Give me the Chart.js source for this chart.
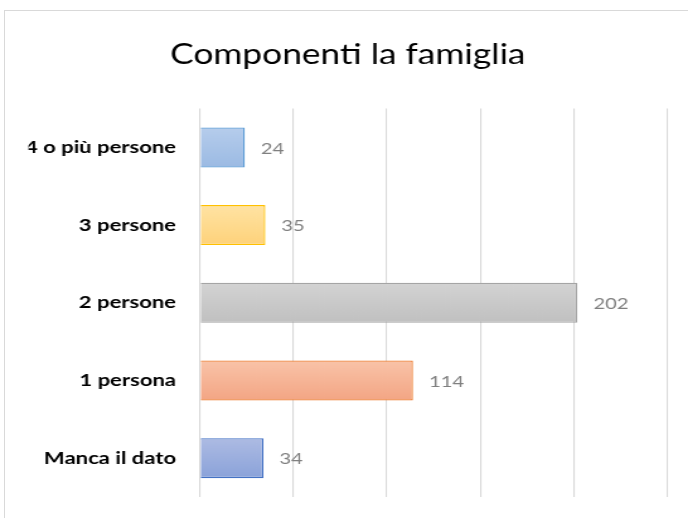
<!DOCTYPE html>
<html>
<head>
<meta charset="utf-8">
<script src="https://cdn.jsdelivr.net/npm/chart.js@4/dist/chart.umd.min.js"></script>
<style>
  html, body { margin: 0; padding: 0; background: #ffffff; }
  #wrap { position: relative; width: 688px; height: 518px; overflow: hidden; }
  #frame { position: absolute; left: 4px; top: 10px; width: 720px; height: 540px; border: 1px solid #d9d9d9; box-sizing: border-box; }
  #c { position: absolute; left: 0; top: 0; }
</style>
</head>
<body>
<div id="wrap">
  <div id="frame"></div>
  <!-- drawn at 546 px wide and stretched to 688 px, like the reference -->
  <canvas id="c" width="546" height="518" style="width:688px;height:518px;"></canvas>
</div>
<script>
const chartTitle = "Componenti la famiglia";
const categories = ["4 o più persone", "3 persone", "2 persone", "1 persona", "Manca il dato"];
const values = [24, 35, 202, 114, 34];
const xTicks = [0, 50, 100, 150, 200, 250];

const fillTop = ["#b6cdec", "#ffe3a3", "#d3d3d3", "#f9c3a8", "#adbbe3"];
const fillBottom = ["#9bbae3", "#fed27a", "#c0c0c0", "#f3a584", "#8aa2d9"];
const borderCols = ["#5b9bd5", "#ffc000", "#a5a5a5", "#ed7d31", "#4472c4"];

function barFill(ctx) {
  const chart = ctx.chart;
  const i = ctx.dataIndex;
  const y = chart.scales && chart.scales.y;
  if (!chart.chartArea || !y || i === undefined) return fillBottom[i] || "#ccc";
  const cy = y.getPixelForValue(i);
  const half = 20;
  const g = chart.ctx.createLinearGradient(0, cy - half, 0, cy + half);
  g.addColorStop(0, fillTop[i]);
  g.addColorStop(1, fillBottom[i]);
  return g;
}

const valueLabels = {
  id: "valueLabels",
  afterDatasetsDraw(chart) {
    const ctx = chart.ctx;
    const meta = chart.getDatasetMeta(0);
    ctx.save();
    ctx.font = "16px Lato, 'Open Sans', sans-serif";
    ctx.fillStyle = "#808080";
    ctx.textAlign = "left";
    ctx.textBaseline = "middle";
    meta.data.forEach((bar, i) => {
      ctx.fillText(String(values[i]), bar.x + 12.7, bar.y + 1);
    });
    ctx.restore();
  }
};

new Chart(document.getElementById("c"), {
  type: "bar",
  data: {
    labels: categories,
    datasets: [{
      data: values,
      backgroundColor: barFill,
      borderColor: borderCols,
      borderWidth: 1.3,
      categoryPercentage: 1,
      barPercentage: 0.515
    }]
  },
  options: {
    indexAxis: "y",
    responsive: false,
    animation: false,
    layout: { padding: { left: 22.6, right: 16.6, top: 0, bottom: 21 } },
    plugins: {
      legend: { display: false },
      tooltip: { enabled: false },
      title: {
        display: true,
        text: chartTitle,
        color: "#000000",
        font: { family: "Lato, 'Open Sans', sans-serif", size: 28, weight: "normal" },
        padding: { top: 38, bottom: 37 }
      }
    },
    scales: {
      x: {
        min: xTicks[0],
        max: xTicks[xTicks.length - 1],
        afterBuildTicks(scale) { scale.ticks = xTicks.map(v => ({ value: v })); },
        afterFit(scale) { scale.height = 0; scale.paddingLeft = 0; scale.paddingRight = 0; },
        ticks: { display: false },
        border: { display: false },
        grid: { color: "#d9d9d9", lineWidth: 1.1, drawTicks: false }
      },
      y: {
        afterFit(scale) { scale.width = 136.1; scale.paddingTop = 0; scale.paddingBottom = 0; },
        ticks: {
          color: "#000000",
          padding: 19,
          font: { family: "Lato, 'Open Sans', sans-serif", size: 17.5, weight: "bold" }
        },
        border: { display: false },
        grid: { display: false, drawTicks: false }
      }
    }
  },
  plugins: [valueLabels]
});
</script>
</body>
</html>
